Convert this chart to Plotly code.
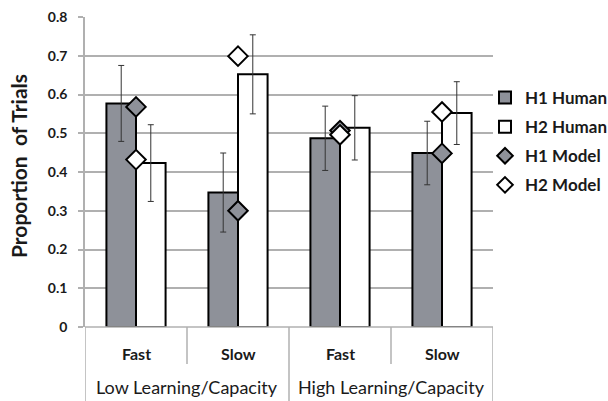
import plotly.graph_objects as go

groups = ["Low Learning/Capacity", "High Learning/Capacity"]
speeds = ["Fast", "Slow"]
positions = [0, 1, 2, 3]

h1_human = [0.577, 0.347, 0.487, 0.449]
h1_human_err = [0.098, 0.102, 0.083, 0.082]
h2_human = [0.423, 0.652, 0.514, 0.552]
h2_human_err = [0.099, 0.102, 0.083, 0.081]
h1_model = [0.568, 0.300, 0.507, 0.448]
h2_model = [0.432, 0.699, 0.496, 0.555]

GRAY = "#8e9199"
FONT = "Lato"
TXT = "#1a1a1a"

fig = go.Figure()
fig.add_trace(go.Bar(x=positions, y=h1_human, name="H1 Human", legendgroup="a",
                     marker=dict(color=GRAY, line=dict(color="black", width=2)),
                     error_y=dict(type="data", array=h1_human_err, color="#333333", thickness=1, width=3)))
fig.add_trace(go.Bar(x=positions, y=h2_human, name="H2 Human", legendgroup="b",
                     marker=dict(color="white", line=dict(color="black", width=2)),
                     error_y=dict(type="data", array=h2_human_err, color="#333333", thickness=1, width=3)))
fig.add_trace(go.Scatter(x=positions, y=h1_model, name="H1 Model", mode="markers", legendgroup="c",
                         marker=dict(symbol="diamond", size=15, color=GRAY, line=dict(color="black", width=2))))
fig.add_trace(go.Scatter(x=positions, y=h2_model, name="H2 Model", mode="markers", legendgroup="d",
                         marker=dict(symbol="diamond", size=15, color="white", line=dict(color="black", width=2))))

H = 310.0
W = 408.0
def py(pix):
    return (327 - pix) / H
def px(pix):
    return (pix - 85) / W

line_style = dict(color="#b0b0b0", width=1.5)
shapes = [
    dict(type="line", xref="x", yref="paper", x0=-0.5, x1=-0.5, y0=0, y1=py(401), line=line_style),
    dict(type="line", xref="x", yref="paper", x0=3.5, x1=3.5, y0=0, y1=py(401), line=line_style),
    dict(type="line", xref="x", yref="paper", x0=1.5, x1=1.5, y0=0, y1=py(401), line=line_style),
    dict(type="line", xref="x", yref="paper", x0=0.5, x1=0.5, y0=0, y1=py(364), line=line_style),
    dict(type="line", xref="x", yref="paper", x0=2.5, x1=2.5, y0=0, y1=py(364), line=line_style),
    dict(type="line", xref="x", yref="paper", x0=-0.5, x1=3.5, y0=0, y1=0, line=line_style),
]

annotations = []
for i, p in enumerate(positions):
    annotations.append(dict(x=p, y=py(353), xref="x", yref="paper", text="<b>" + speeds[i % 2] + "</b>", showarrow=False,
                            font=dict(family=FONT, size=16, color=TXT), xanchor="center", yanchor="middle"))
for g, name in enumerate(groups):
    annotations.append(dict(x=0.5 + 2 * g, y=py(387), xref="x", yref="paper", text=name, showarrow=False,
                            font=dict(family=FONT, size=18, color=TXT), xanchor="center", yanchor="middle"))
annotations.append(dict(x=px(19), y=py(166), xref="paper", yref="paper", text="<b>Proportion  of Trials</b>",
                        textangle=-90, showarrow=False, font=dict(family=FONT, size=21, color=TXT),
                        xanchor="center", yanchor="middle"))

fig.update_layout(
    width=608, height=401,
    margin=dict(l=85, r=115, t=17, b=74, autoexpand=False),
    plot_bgcolor="white", paper_bgcolor="white",
    barmode="group", bargap=0.42, bargroupgap=0,
    showlegend=True,
    legend=dict(x=px(485), y=py(80), xanchor="left", yanchor="top", traceorder="grouped", tracegroupgap=4,
                itemsizing="constant",
                font=dict(family=FONT, size=17, color=TXT, weight="bold"), itemwidth=30, bgcolor="rgba(0,0,0,0)"),
    shapes=shapes, annotations=annotations,
    font=dict(family=FONT),
)
fig.update_xaxes(range=[-0.5, 3.5], showticklabels=False, showgrid=False, zeroline=False, showline=False,
                 automargin=False)
fig.update_yaxes(range=[0, 0.8], dtick=0.1, tickformat=".1~f", showgrid=True, gridcolor="#b0b0b0", gridwidth=1.5,
                 zeroline=False, showline=True, linecolor="#b0b0b0", linewidth=1.5, automargin=False,
                 ticks="outside", ticklen=5, tickcolor="#b0b0b0", tickwidth=1.5, ticklabelstandoff=8,
                 tickfont=dict(family=FONT, size=14, color=TXT, weight="bold"))

fig.write_html("out.html", config={"displayModeBar": False},
               post_script="document.body.style.margin='0';document.body.style.padding='0';")
